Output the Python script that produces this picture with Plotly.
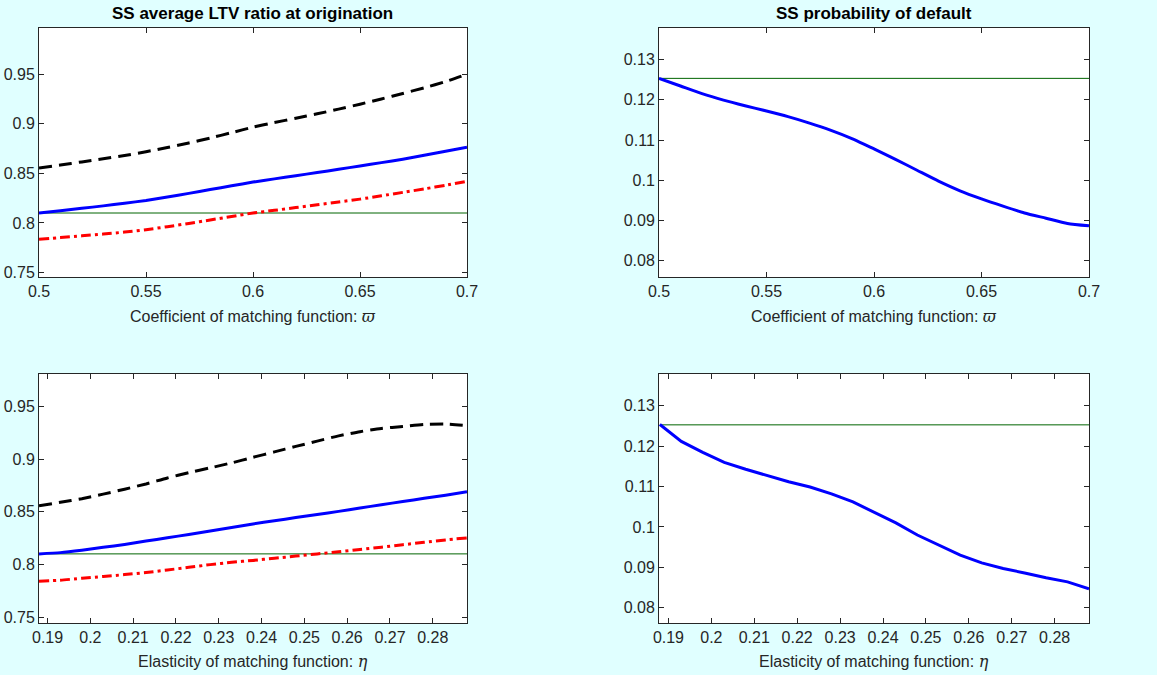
import plotly.graph_objects as go

# ---------------- data ----------------
varpi = [0.50, 0.51, 0.52, 0.53, 0.54, 0.55, 0.56, 0.57, 0.58, 0.59, 0.60,
         0.61, 0.62, 0.63, 0.64, 0.65, 0.66, 0.67, 0.68, 0.69, 0.70]
ltv_varpi_mid = [0.8100, 0.8123, 0.8147, 0.8172, 0.8198, 0.8227, 0.8262, 0.8298, 0.8336, 0.8374, 0.8412,
                 0.8444, 0.8476, 0.8508, 0.8541, 0.8574, 0.8608, 0.8643, 0.8682, 0.8722, 0.8763]
ltv_varpi_high = [0.8554, 0.8584, 0.8615, 0.8647, 0.8680, 0.8718, 0.8760, 0.8806, 0.8856, 0.8910, 0.8965,
                  0.9012, 0.9055, 0.9100, 0.9147, 0.9197, 0.9250, 0.9305, 0.9362, 0.9425, 0.9500]
ltv_varpi_low = [0.7836, 0.7852, 0.7870, 0.7888, 0.7908, 0.7932, 0.7962, 0.7995, 0.8030, 0.8065, 0.8100,
                 0.8127, 0.8155, 0.8183, 0.8211, 0.8240, 0.8273, 0.8308, 0.8343, 0.8380, 0.8420]
pd_varpi = [0.1253, 0.1234, 0.1215, 0.1199, 0.1185, 0.1172, 0.1158, 0.1142, 0.1124, 0.1103, 0.1078,
            0.1052, 0.1025, 0.0998, 0.0974, 0.0954, 0.0936, 0.0919, 0.0906, 0.0893, 0.0887]

eta = [0.188, 0.193, 0.198, 0.203, 0.208, 0.213, 0.218, 0.223, 0.228, 0.233, 0.238,
       0.243, 0.248, 0.253, 0.258, 0.263, 0.268, 0.273, 0.278, 0.283, 0.288]
ltv_eta_mid = [0.8100, 0.8112, 0.8135, 0.8162, 0.8190, 0.8222, 0.8253, 0.8285, 0.8317, 0.8350, 0.8385,
               0.8415, 0.8445, 0.8474, 0.8504, 0.8536, 0.8567, 0.8598, 0.8628, 0.8658, 0.8690]
ltv_eta_high = [0.8557, 0.8590, 0.8625, 0.8668, 0.8715, 0.8765, 0.8822, 0.8872, 0.8918, 0.8965, 0.9018,
                0.9070, 0.9122, 0.9172, 0.9222, 0.9262, 0.9292, 0.9312, 0.9330, 0.9334, 0.9320]
ltv_eta_low = [0.7840, 0.7850, 0.7868, 0.7885, 0.7903, 0.7923, 0.7947, 0.7972, 0.7998, 0.8020, 0.8038,
               0.8058, 0.8079, 0.8100, 0.8120, 0.8142, 0.8164, 0.8187, 0.8210, 0.8233, 0.8252]
pd_eta = [0.1254, 0.1212, 0.1185, 0.1160, 0.1143, 0.1128, 0.1112, 0.1099, 0.1082, 0.1062, 0.1036,
          0.1010, 0.0980, 0.0955, 0.0930, 0.0911, 0.0897, 0.0886, 0.0874, 0.0864, 0.0847]

ltv_ss = 0.810
pd_ss = 0.1253

varpi_ticks = [0.5, 0.55, 0.6, 0.65, 0.7]
varpi_ticktext = ["0.5", "0.55", "0.6", "0.65", "0.7"]
eta_ticks = [0.19, 0.2, 0.21, 0.22, 0.23, 0.24, 0.25, 0.26, 0.27, 0.28]
eta_ticktext = ["0.19", "0.2", "0.21", "0.22", "0.23", "0.24", "0.25", "0.26", "0.27", "0.28"]
ltv_ticks = [0.75, 0.8, 0.85, 0.9, 0.95]
ltv_ticktext = ["0.75", "0.8", "0.85", "0.9", "0.95"]
pd_ticks = [0.08, 0.09, 0.1, 0.11, 0.12, 0.13]
pd_ticktext = ["0.08", "0.09", "0.1", "0.11", "0.12", "0.13"]

titles = ["SS average LTV ratio at origination", "SS probability of default"]
xlabel_varpi = "Coefficient of matching function: "
xlabel_eta = "Elasticity of matching function: "

# ---------------- figure ----------------
W, H = 1157, 675
BG = "#E0FFFF"
AX = "#262626"
FONT = "Liberation Sans, Arial, sans-serif"

fig = go.Figure()

def xd(a, b):
    return [a / W, b / W]

def yd(top, bot):
    return [1 - bot / H, 1 - top / H]

panels = {
    1: dict(x=xd(39, 467), y=yd(28, 277)),
    2: dict(x=xd(659, 1089), y=yd(28, 277)),
    3: dict(x=xd(39, 467), y=yd(374, 623)),
    4: dict(x=xd(659, 1089), y=yd(374, 623)),
}

def ax_name(i, kind):
    return kind if i == 1 else f"{kind}{i}"

def add_line(i, x, y, color, width, dash="solid", shape="linear"):
    fig.add_trace(go.Scatter(
        x=x, y=y, mode="lines",
        line=dict(color=color, width=width, dash=dash, shape=shape,
                  smoothing=0.6 if shape == "spline" else None),
        xaxis="x" if i == 1 else f"x{i}", yaxis="y" if i == 1 else f"y{i}",
        showlegend=False, hoverinfo="skip"))

DASH = "13px,7px"
DASHDOT = "10px,4px,3px,4px"

# panel 1
add_line(1, [varpi[0], varpi[-1]], [ltv_ss, ltv_ss], "#006400", 1)
add_line(1, varpi, ltv_varpi_high, "#000000", 3, DASH, "spline")
add_line(1, varpi, ltv_varpi_low, "#FF0000", 3, DASHDOT, "spline")
add_line(1, varpi, ltv_varpi_mid, "#0000FF", 3, "solid", "spline")
# panel 2
add_line(2, [varpi[0], varpi[-1]], [pd_ss, pd_ss], "#006400", 1)
add_line(2, varpi, pd_varpi, "#0000FF", 3, "solid", "spline")
# panel 3
add_line(3, [eta[0], eta[-1]], [ltv_ss, ltv_ss], "#006400", 1)
add_line(3, eta, ltv_eta_high, "#000000", 3, DASH, "spline")
add_line(3, eta, ltv_eta_low, "#FF0000", 3, DASHDOT, "spline")
add_line(3, eta, ltv_eta_mid, "#0000FF", 3, "solid", "spline")
# panel 4
add_line(4, [eta[0], eta[-1]], [pd_ss, pd_ss], "#006400", 1)
add_line(4, eta, pd_eta, "#0000FF", 3)

ranges = {
    1: dict(xr=[0.5, 0.7], yr=[0.7455, 0.9965], xt=(varpi_ticks, varpi_ticktext), yt=(ltv_ticks, ltv_ticktext)),
    2: dict(xr=[0.5, 0.7], yr=[0.0760, 0.1378], xt=(varpi_ticks, varpi_ticktext), yt=(pd_ticks, pd_ticktext)),
    3: dict(xr=[0.188, 0.288], yr=[0.7443, 0.981], xt=(eta_ticks, eta_ticktext), yt=(ltv_ticks, ltv_ticktext)),
    4: dict(xr=[0.1878, 0.288], yr=[0.0762, 0.1379], xt=(eta_ticks, eta_ticktext), yt=(pd_ticks, pd_ticktext)),
}

layout = {}
for i in range(1, 5):
    r = ranges[i]
    common = dict(
        tickmode="array", ticks="inside", ticklen=5, tickwidth=1, tickcolor=AX,
        showline=True, linecolor=AX, linewidth=1, mirror="allticks",
        showgrid=False, zeroline=False, automargin=False, fixedrange=True,
        tickfont=dict(family=FONT, size=16, color=AX))
    layout[ax_name(i, "xaxis")] = dict(
        domain=panels[i]["x"], range=r["xr"], anchor="y" if i == 1 else f"y{i}",
        tickvals=r["xt"][0], ticktext=r["xt"][1], **common)
    layout[ax_name(i, "yaxis")] = dict(
        domain=panels[i]["y"], range=r["yr"], anchor="x" if i == 1 else f"x{i}",
        tickvals=r["yt"][0], ticktext=r["yt"][1], **common)

annotations = []
for i, t in zip([1, 2], titles):
    xdom = panels[i]["x"]
    annotations.append(dict(
        text=f"<b>{t}</b>", x=(xdom[0] + xdom[1]) / 2, y=1 - 14 / H,
        xref="paper", yref="paper", xanchor="center", yanchor="middle",
        showarrow=False, font=dict(family=FONT, size=17, color="#000000")))

greek = '<span style="font-family:DejaVu Serif, serif"><i>{}</i></span>'
xlabels = {1: xlabel_varpi + greek.format("ϖ"), 2: xlabel_varpi + greek.format("ϖ"),
           3: xlabel_eta + greek.format("η"), 4: xlabel_eta + greek.format("η")}
xlabel_y = {1: 316, 2: 316, 3: 661, 4: 661}
for i in range(1, 5):
    xdom = panels[i]["x"]
    annotations.append(dict(
        text=xlabels[i], x=(xdom[0] + xdom[1]) / 2, y=1 - xlabel_y[i] / H,
        xref="paper", yref="paper", xanchor="center", yanchor="middle",
        showarrow=False, font=dict(family=FONT, size=16, color=AX)))

fig.update_layout(
    width=W, height=H,
    margin=dict(l=0, r=0, t=0, b=0),
    paper_bgcolor=BG, plot_bgcolor="#FFFFFF",
    showlegend=False,
    annotations=annotations,
    **layout)

fig.write_html("out.html",
               config={"displayModeBar": False},
               post_script="document.body.style.margin='0';document.body.style.padding='0';document.body.style.overflow='hidden';")
